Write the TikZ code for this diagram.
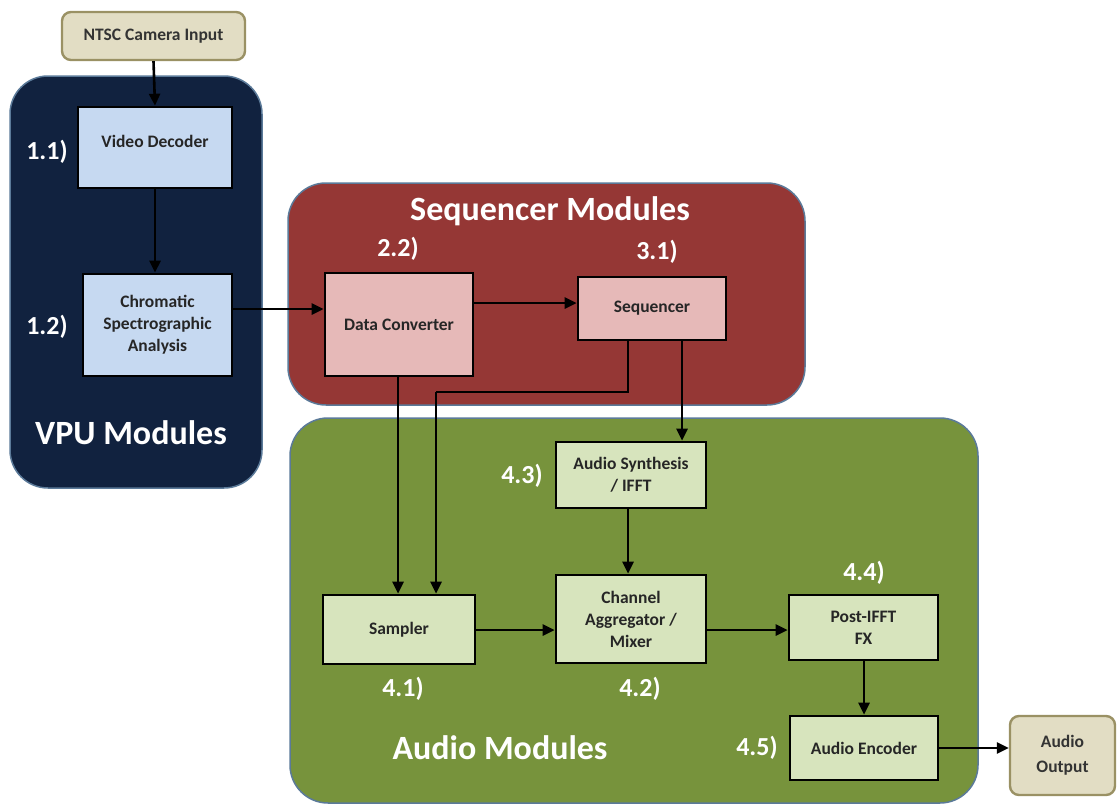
\documentclass[tikz,border=0pt]{standalone}
\usepackage{fontspec}
\setmainfont{Carlito}
\usetikzlibrary{arrows.meta}
\definecolor{vpu}{HTML}{11223F}
\definecolor{seqc}{HTML}{953735}
\definecolor{aud}{HTML}{77933C}
\definecolor{contb}{HTML}{5B7A99}
\definecolor{lblue}{HTML}{C6D9F1}
\definecolor{lpink}{HTML}{E6B9B8}
\definecolor{lgreen}{HTML}{D7E4BD}
\definecolor{beige}{HTML}{E2DDC4}
\definecolor{beigeb}{HTML}{9A9164}
\tikzset{
  container/.style={draw=contb, line width=1.5pt, rounded corners=38pt, inner sep=0pt},
  blk/.style={draw=black, line width=2.6pt, inner sep=2pt, align=center, font=\fontsize{17.5}{22}\selectfont\bfseries, text=black!85},
  term/.style={draw=beigeb, fill=beige, line width=2.4pt, rounded corners=9pt, align=center, font=\fontsize{17.5}{25}\selectfont\bfseries, text=black!80},
  num/.style={text=white, font=\fontsize{26}{28}\selectfont\bfseries},
  ttl/.style={text=white, font=\fontsize{34}{36}\selectfont\bfseries},
  conn/.style={line width=2.6pt, -{Triangle[length=12pt,width=11pt]}},
  seg/.style={line width=2.6pt}
}
\begin{document}
\begin{tikzpicture}[x=1pt,y=-1pt]
\useasboundingbox (0,0) rectangle (1119,806);
\fill[white] (0,0) rectangle (1119,806);
% containers
\draw[container, fill=vpu] (10,76) rectangle (262,488);
\draw[container, fill=seqc] (288,183) rectangle (805,405);
\draw[container, fill=aud] (290,418) rectangle (978,803);
% titles
\node[ttl] (tvpu) at (131,433) {VPU Modules};
\node[ttl] (tseq) at (550,211) {Sequencer Modules};
\node[ttl] (taud) at (500,748) {Audio Modules};
% terminals
\node[term, minimum width=183pt, minimum height=48pt] (cam) at (153.5,36) {NTSC Camera Input};
\node[term, minimum width=105pt, minimum height=79pt] (aout) at (1062.5,755.5) {Audio\\Output};
% blocks
\node[blk, fill=lblue, minimum width=154pt, minimum height=81pt] (vd) at (155,147.5) {\raisebox{13pt}{Video Decoder}};
\node[blk, fill=lblue, minimum width=149pt, minimum height=102pt] (csa) at (157.5,325) {Chromatic\\Spectrographic\\Analysis};
\node[blk, fill=lpink, minimum width=148pt, minimum height=103pt] (dc) at (399,324.5) {Data Converter};
\node[blk, fill=lpink, minimum width=148pt, minimum height=63pt] (sq) at (652,308.5) {Sequencer};
\node[blk, fill=lgreen, minimum width=150pt, minimum height=66pt] (as) at (631,475) {Audio Synthesis\\/ IFFT};
\node[blk, fill=lgreen, minimum width=150pt, minimum height=88pt] (ca) at (631,619) {Channel\\Aggregator /\\Mixer};
\node[blk, fill=lgreen, minimum width=152pt, minimum height=69pt] (sa) at (399,629.5) {Sampler};
\node[blk, fill=lgreen, minimum width=149pt, minimum height=65pt] (pf) at (863.5,627.5) {Post-IFFT\\FX};
\node[blk, fill=lgreen, minimum width=148pt, minimum height=64pt] (ae) at (864,748) {Audio Encoder};
% numbers
\node[num] (n11) at (47,152) {1.1)};
\node[num] (n12) at (47,327) {1.2)};
\node[num] (n22) at (398,249) {2.2)};
\node[num] (n31) at (657,252) {3.1)};
\node[num] (n43) at (522,476) {4.3)};
\node[num] (n41) at (403,689) {4.1)};
\node[num] (n42) at (640,689) {4.2)};
\node[num] (n44) at (864,573) {4.4)};
\node[num] (n45) at (757,748) {4.5)};
% connectors
\draw[conn] (cam.south) -- (vd.north);
\draw[conn] (vd.south) -- (vd.south |- csa.north);
\draw[conn] (csa.east |- 0,309) -- (dc.west |- 0,309);
\draw[conn] (dc.east |- 0,303) -- (sq.west |- 0,303);
\draw[conn] (dc.south -| 398,0) -- (sa.north -| 398,0);
\coordinate (k1) at (628,392);
\coordinate (k2) at (436,392);
\draw[seg] (sq.south -| k1) -- (k1) -- (k2);
\draw[conn] (k2) -- (sa.north -| k2);
\draw[conn] (sq.south -| 682,0) -- (as.north -| 682,0);
\draw[conn] (as.south -| 628,0) -- (ca.north -| 628,0);
\draw[conn] (sa.east |- 0,630) -- (ca.west |- 0,630);
\draw[conn] (ca.east |- 0,630) -- (pf.west |- 0,630);
\draw[conn] (pf.south -| 864,0) -- (ae.north -| 864,0);
\draw[conn] (ae.east) -- (aout.west |- ae.east);
\end{tikzpicture}
\end{document}
